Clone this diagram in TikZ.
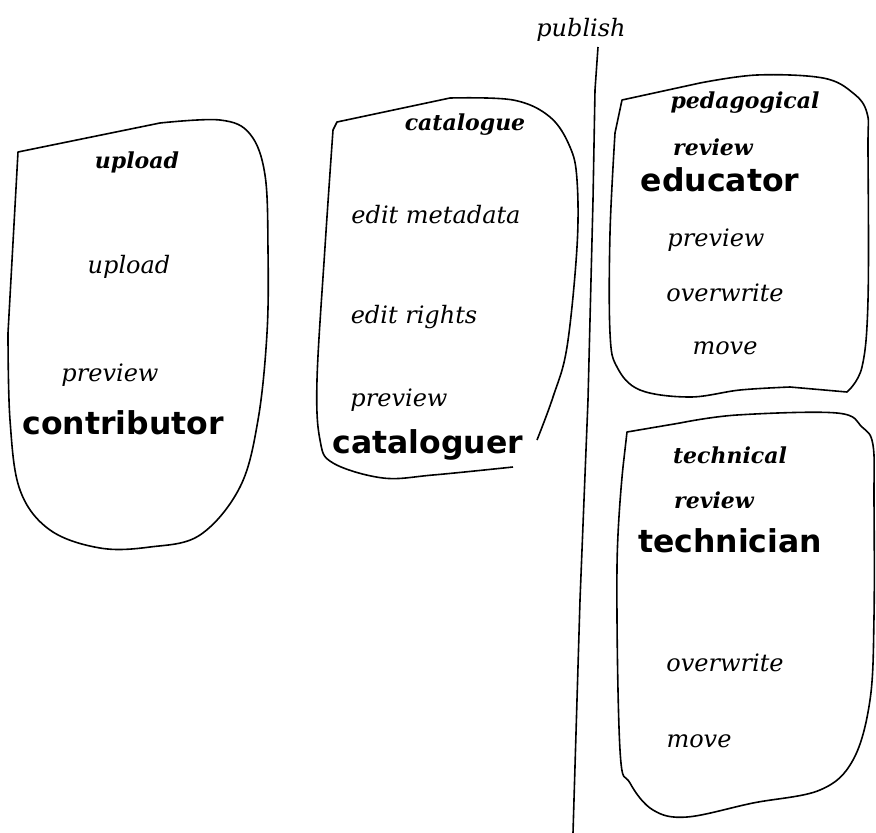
\documentclass[tikz,border=0pt]{standalone}
\usepackage{fontspec}
\setmainfont{DejaVu Serif}
\newfontfamily\rolefont{DejaVu Sans}
\begin{document}
\begin{tikzpicture}[x=1pt,y=-1pt,
  blob/.style={draw=black,line width=1.6pt,line join=round},
  itemtxt/.style={inner sep=0pt,font=\itshape\fontsize{24}{27}\selectfont},
  titletxt/.style={inner sep=0pt,font=\bfseries\itshape\fontsize{22}{25}\selectfont},
  roletxt/.style={inner sep=0pt,font=\rolefont\bfseries\fontsize{31.5}{35}\selectfont}]
\useasboundingbox (0,0) rectangle (876,833);
% contributor blob
\draw[blob] (18,152) -- plot[smooth,tension=0.6] coordinates {(160,123) (220,120) (250,134) (265,175) (268,250) (267,333) (258,420) (240,487) (200,535) (150,547) (100,548) (50,530) (20,490) (10,420) (8,333)} -- cycle;
% cataloguer blob (open at bottom right)
\draw[blob] plot[smooth,tension=0.6] coordinates {(537,440) (553,397) (567,347) (577,247) (577,180) (570,147) (550,117) (513,100) (450,98)} -- (337,122) -- plot[smooth,tension=0.6] coordinates {(333,130) (325,247) (317,380) (320,440) (333,463) (383,478) (433,475) (513,467)};
% educator blob
\draw[blob] (622,100) -- plot[smooth,tension=0.6] coordinates {(700,83) (757,75) (823,78) (853,93) (867,113) (868,150) (868,300) (862,367) (847,392)} -- plot[smooth,tension=0.6] coordinates {(790,387) (740,390) (690,397) (640,390) (617,367) (610,333) (610,233) (615,133)} -- cycle;
% technician blob
\draw[blob] (627,432) -- plot[smooth,tension=0.6] coordinates {(680,423) (737,415) (837,413) (862,427) (873,445) (874,500) (874,617) (870,700) (853,760) (820,790) (753,803) (687,817) (653,810) (630,783) (620,750) (617,567) (623,467)} -- cycle;
% publish divider
\node[itemtxt] (pub) at (581,30) {publish};
\coordinate (pubend) at (573,833);
\draw[line width=1.6pt] (598,47) -- (595,90) -- (593,200) -- (588,400) -- (580,600) -- (pubend);
% contributor texts
\node[titletxt] (t1) at (137,162) {upload};
\node[itemtxt] (a1) at (129,267) {upload};
\node[itemtxt] (a2) at (110,375) {preview};
\node[roletxt] (r1) at (123,423) {contributor};
% cataloguer texts
\node[titletxt] (t2) at (465,125) {catalogue};
\node[itemtxt] (b1) at (436,215) {edit metadata};
\node[itemtxt] (b2) at (414,317) {edit rights};
\node[itemtxt] (b3) at (399,400) {preview};
\node[roletxt] (r2) at (428,445) {cataloguer};
% educator texts
\node[titletxt] (t3) at (745,103) {pedagogical};
\node[titletxt] (t3b) at (713,147) {review};
\node[roletxt] (r3) at (720,180) {educator};
\node[itemtxt] (c1) at (716,240) {preview};
\node[itemtxt] (c2) at (725,293) {overwrite};
\node[itemtxt] (c3) at (725,348) {move};
% technician texts
\node[titletxt] (t4) at (730,455) {technical};
\node[titletxt] (t4b) at (714,500) {review};
\node[roletxt] (r4) at (730,541) {technician};
\node[itemtxt] (d1) at (725,663) {overwrite};
\node[itemtxt] (d2) at (699,741) {move};
\end{tikzpicture}
\end{document}
